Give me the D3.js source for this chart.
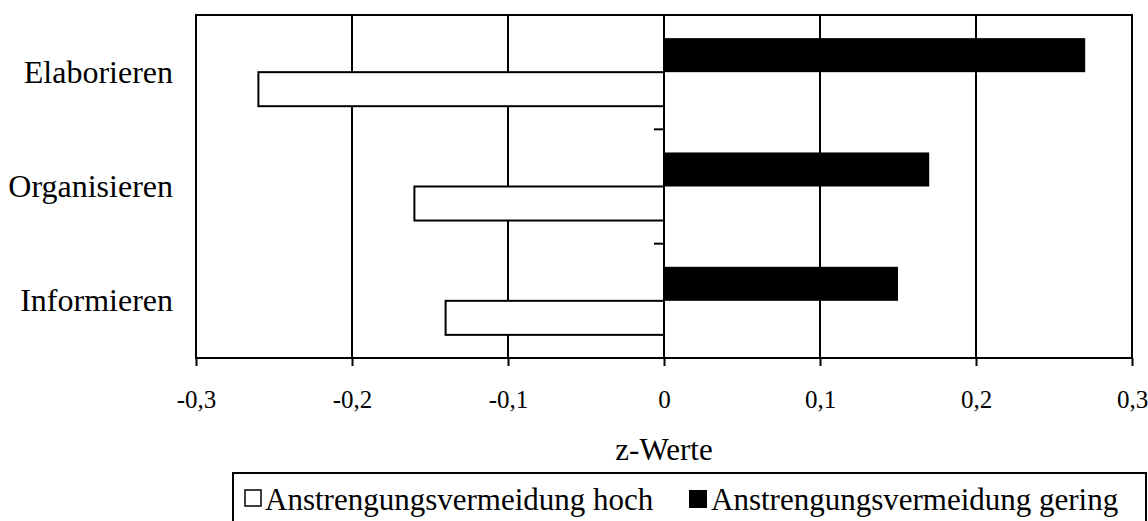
<!DOCTYPE html>
<html>
<head>
<meta charset="utf-8">
<script src="https://cdnjs.cloudflare.com/ajax/libs/d3/7.8.5/d3.min.js"></script>
<style>
  body { margin: 0; background: #fff; }
  svg { display: block; font-family: "Liberation Serif", "Times New Roman", serif; }
  text { font-family: "Liberation Serif", "Times New Roman", serif; }
</style>
</head>
<body>
<svg id="chart" width="1148" height="521"></svg>
<script>
// data
var categories = ["Elaborieren", "Organisieren", "Informieren"];
var seriesNames = ["Anstrengungsvermeidung hoch", "Anstrengungsvermeidung gering"];
var hochValues = [-0.26, -0.16, -0.14];
var geringValues = [0.27, 0.17, 0.15];
var xTicks = [-0.3, -0.2, -0.1, 0, 0.1, 0.2, 0.3];
var xTickLabels = ["-0,3", "-0,2", "-0,1", "0", "0,1", "0,2", "0,3"];
var xTitle = "z-Werte";

var svg = d3.select("#chart");
var pLeft = 196, pRight = 1132, pTop = 15, pBottom = 358;

var x = d3.scaleLinear().domain([-0.3, 0.3]).range([pLeft, pRight]);
var y = d3.scaleBand().domain(categories).range([pTop, pBottom]).padding(0);
// black bar above, white below
var sub = d3.scaleBand().domain(["gering", "hoch"]).range([0, y.bandwidth()]).paddingInner(0).paddingOuter(0.68);

// gridlines
svg.append("g").selectAll("line")
  .data(xTicks.filter(function(d){ return d != 0 && Math.abs(d) < 0.3; }))
  .enter().append("line")
  .attr("x1", function(d){ return x(d); }).attr("x2", function(d){ return x(d); })
  .attr("y1", pTop).attr("y2", pBottom)
  .attr("stroke", "#000").attr("stroke-width", 2);

// bars
var rows = categories.map(function(c, i){ return {cat: c, hoch: hochValues[i], gering: geringValues[i]}; });

svg.append("g").selectAll("rect")
  .data(rows).enter().append("rect")
  .attr("x", function(d){ return x(d.hoch); })
  .attr("y", function(d){ return y(d.cat) + sub("hoch"); })
  .attr("width", function(d){ return x(0) - x(d.hoch); })
  .attr("height", sub.bandwidth())
  .attr("fill", "#fff").attr("stroke", "#000").attr("stroke-width", 2);

svg.append("g").selectAll("rect")
  .data(rows).enter().append("rect")
  .attr("x", x(0))
  .attr("y", function(d){ return y(d.cat) + sub("gering"); })
  .attr("width", function(d){ return x(d.gering) - x(0); })
  .attr("height", sub.bandwidth())
  .attr("fill", "#000");

// zero axis with ticks between categories
svg.append("line")
  .attr("x1", x(0)).attr("x2", x(0)).attr("y1", pTop).attr("y2", pBottom)
  .attr("stroke", "#000").attr("stroke-width", 2);
svg.append("g").selectAll("line")
  .data(categories.slice(1))
  .enter().append("line")
  .attr("x1", x(0) - 10).attr("x2", x(0))
  .attr("y1", function(d){ return y(d); }).attr("y2", function(d){ return y(d); })
  .attr("stroke", "#000").attr("stroke-width", 2);

// plot frame
svg.append("rect")
  .attr("x", pLeft).attr("y", pTop)
  .attr("width", pRight - pLeft).attr("height", pBottom - pTop)
  .attr("fill", "none").attr("stroke", "#000").attr("stroke-width", 2);

// x axis
var xAxis = d3.axisBottom(x)
  .tickValues(xTicks)
  .tickSize(8)
  .tickPadding(24)
  .tickFormat(function(d, i){ return xTickLabels[i]; });

var gx = svg.append("g").attr("transform", "translate(0," + pBottom + ")").call(xAxis);
gx.select(".domain").remove();
gx.selectAll(".tick line").attr("stroke", "#000").attr("stroke-width", 2);
gx.selectAll(".tick text")
  .attr("fill", "#000")
  .style("font-family", "'Liberation Serif', serif")
  .style("font-size", "25px");

// category labels
svg.append("g").selectAll("text")
  .data(categories).enter().append("text")
  .attr("x", 173)
  .attr("y", function(d){ return y(d) + y.bandwidth() / 2; })
  .attr("dy", "0.33em")
  .attr("text-anchor", "end")
  .style("font-size", "32px")
  .text(function(d){ return d; });

// axis title
svg.append("text")
  .attr("x", x(0)).attr("y", 460)
  .attr("text-anchor", "middle")
  .style("font-size", "31px")
  .text(xTitle);

// legend
var lg = svg.append("g");
lg.append("rect")
  .attr("x", 233).attr("y", 473).attr("width", 913).attr("height", 80)
  .attr("fill", "none").attr("stroke", "#000").attr("stroke-width", 2);
lg.append("rect")
  .attr("x", 245).attr("y", 490).attr("width", 16).attr("height", 16)
  .attr("fill", "#fff").attr("stroke", "#000").attr("stroke-width", 1.5);
lg.append("text")
  .attr("x", 265).attr("y", 510)
  .style("font-size", "31px")
  .text(seriesNames[0]);
lg.append("rect")
  .attr("x", 689).attr("y", 490).attr("width", 18).attr("height", 18)
  .attr("fill", "#000");
lg.append("text")
  .attr("x", 711).attr("y", 510)
  .style("font-size", "31px")
  .text(seriesNames[1]);
</script>
</body>
</html>
